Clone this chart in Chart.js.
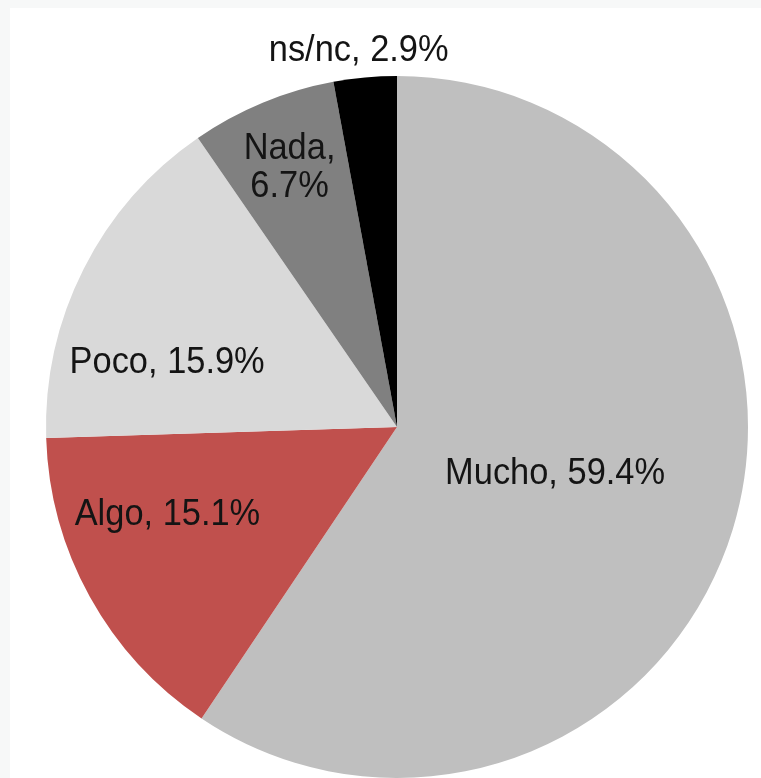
<!DOCTYPE html>
<html>
<head>
<meta charset="utf-8">
<script src="https://cdn.jsdelivr.net/npm/chart.js@4.4.1/dist/chart.umd.min.js"></script>
<style>
  html, body { margin: 0; padding: 0; overflow: hidden; background: #f7f8f8; }
  #frame { position: absolute; left: 10px; top: 8px; right: 0; bottom: 0; background: #fff; }
  #pie { position: absolute; left: 0; top: 0; }
</style>
</head>
<body>
<div id="frame"></div>
<canvas id="pie" width="761" height="778"></canvas>
<script>
// answers, clockwise from 12 o'clock
const categories = ["Mucho", "Algo", "Poco", "Nada", "ns/nc"];
const shares = [59.4, 15.1, 15.9, 6.7, 2.9];
const sliceColors = ["#bfbfbf", "#c0504d", "#d9d9d9", "#808080", "#000000"];

// where each label sits: fraction of radius + angle nudge (deg), like excel's best fit
const labelSpots = [
    { frac: 0.47, turn: -0.3, lines: 1 },
    { frac: 0.70, turn: 8.1, lines: 1 },
    { frac: 0.68, turn: -11.2, lines: 1 },
    { frac: 0.80, turn: 0, lines: 2 },
    { frac: 1.077, turn: -0.6, lines: 1 }
];

const sliceLabels = {
    id: "sliceLabels",
    afterDatasetsDraw(chart) {
        const ctx = chart.ctx;
        const arcs = chart.getDatasetMeta(0).data;
        ctx.save();
        ctx.font = "37px 'Liberation Sans', Arial, sans-serif";
        ctx.fillStyle = "#141414";
        ctx.textAlign = "center";
        ctx.textBaseline = "middle";
        arcs.forEach((arc, i) => {
            const p = arc.getProps(["x", "y", "startAngle", "endAngle", "outerRadius"], true);
            const spot = labelSpots[i];
            const mid = (p.startAngle + p.endAngle) / 2 + spot.turn * Math.PI / 180;
            const r = p.outerRadius * spot.frac;
            const x = p.x + Math.cos(mid) * r;
            const y = p.y + Math.sin(mid) * r;
            const pct = shares[i].toFixed(1) + "%";
            const lines = spot.lines === 2 ? [categories[i] + ",", pct] : [categories[i] + ", " + pct];
            lines.forEach((txt, k) => {
                const ly = y + (k - (lines.length - 1) / 2) * 38;
                ctx.save();
                ctx.translate(x, ly);
                ctx.scale(0.93, 1);
                ctx.fillText(txt, 0, 0);
                ctx.restore();
            });
        });
        ctx.restore();
    }
};

new Chart(document.querySelector("#pie"), {
    type: "pie",
    data: {
        labels: categories,
        datasets: [{
            data: shares,
            backgroundColor: sliceColors,
            borderWidth: 0
        }]
    },
    options: {
        responsive: false,
        animation: false,
        layout: { padding: { left: 33, top: 76, right: 0, bottom: 0 } },
        plugins: { legend: { display: false }, tooltip: { enabled: false } }
    },
    plugins: [sliceLabels]
});
</script>
</body>
</html>
